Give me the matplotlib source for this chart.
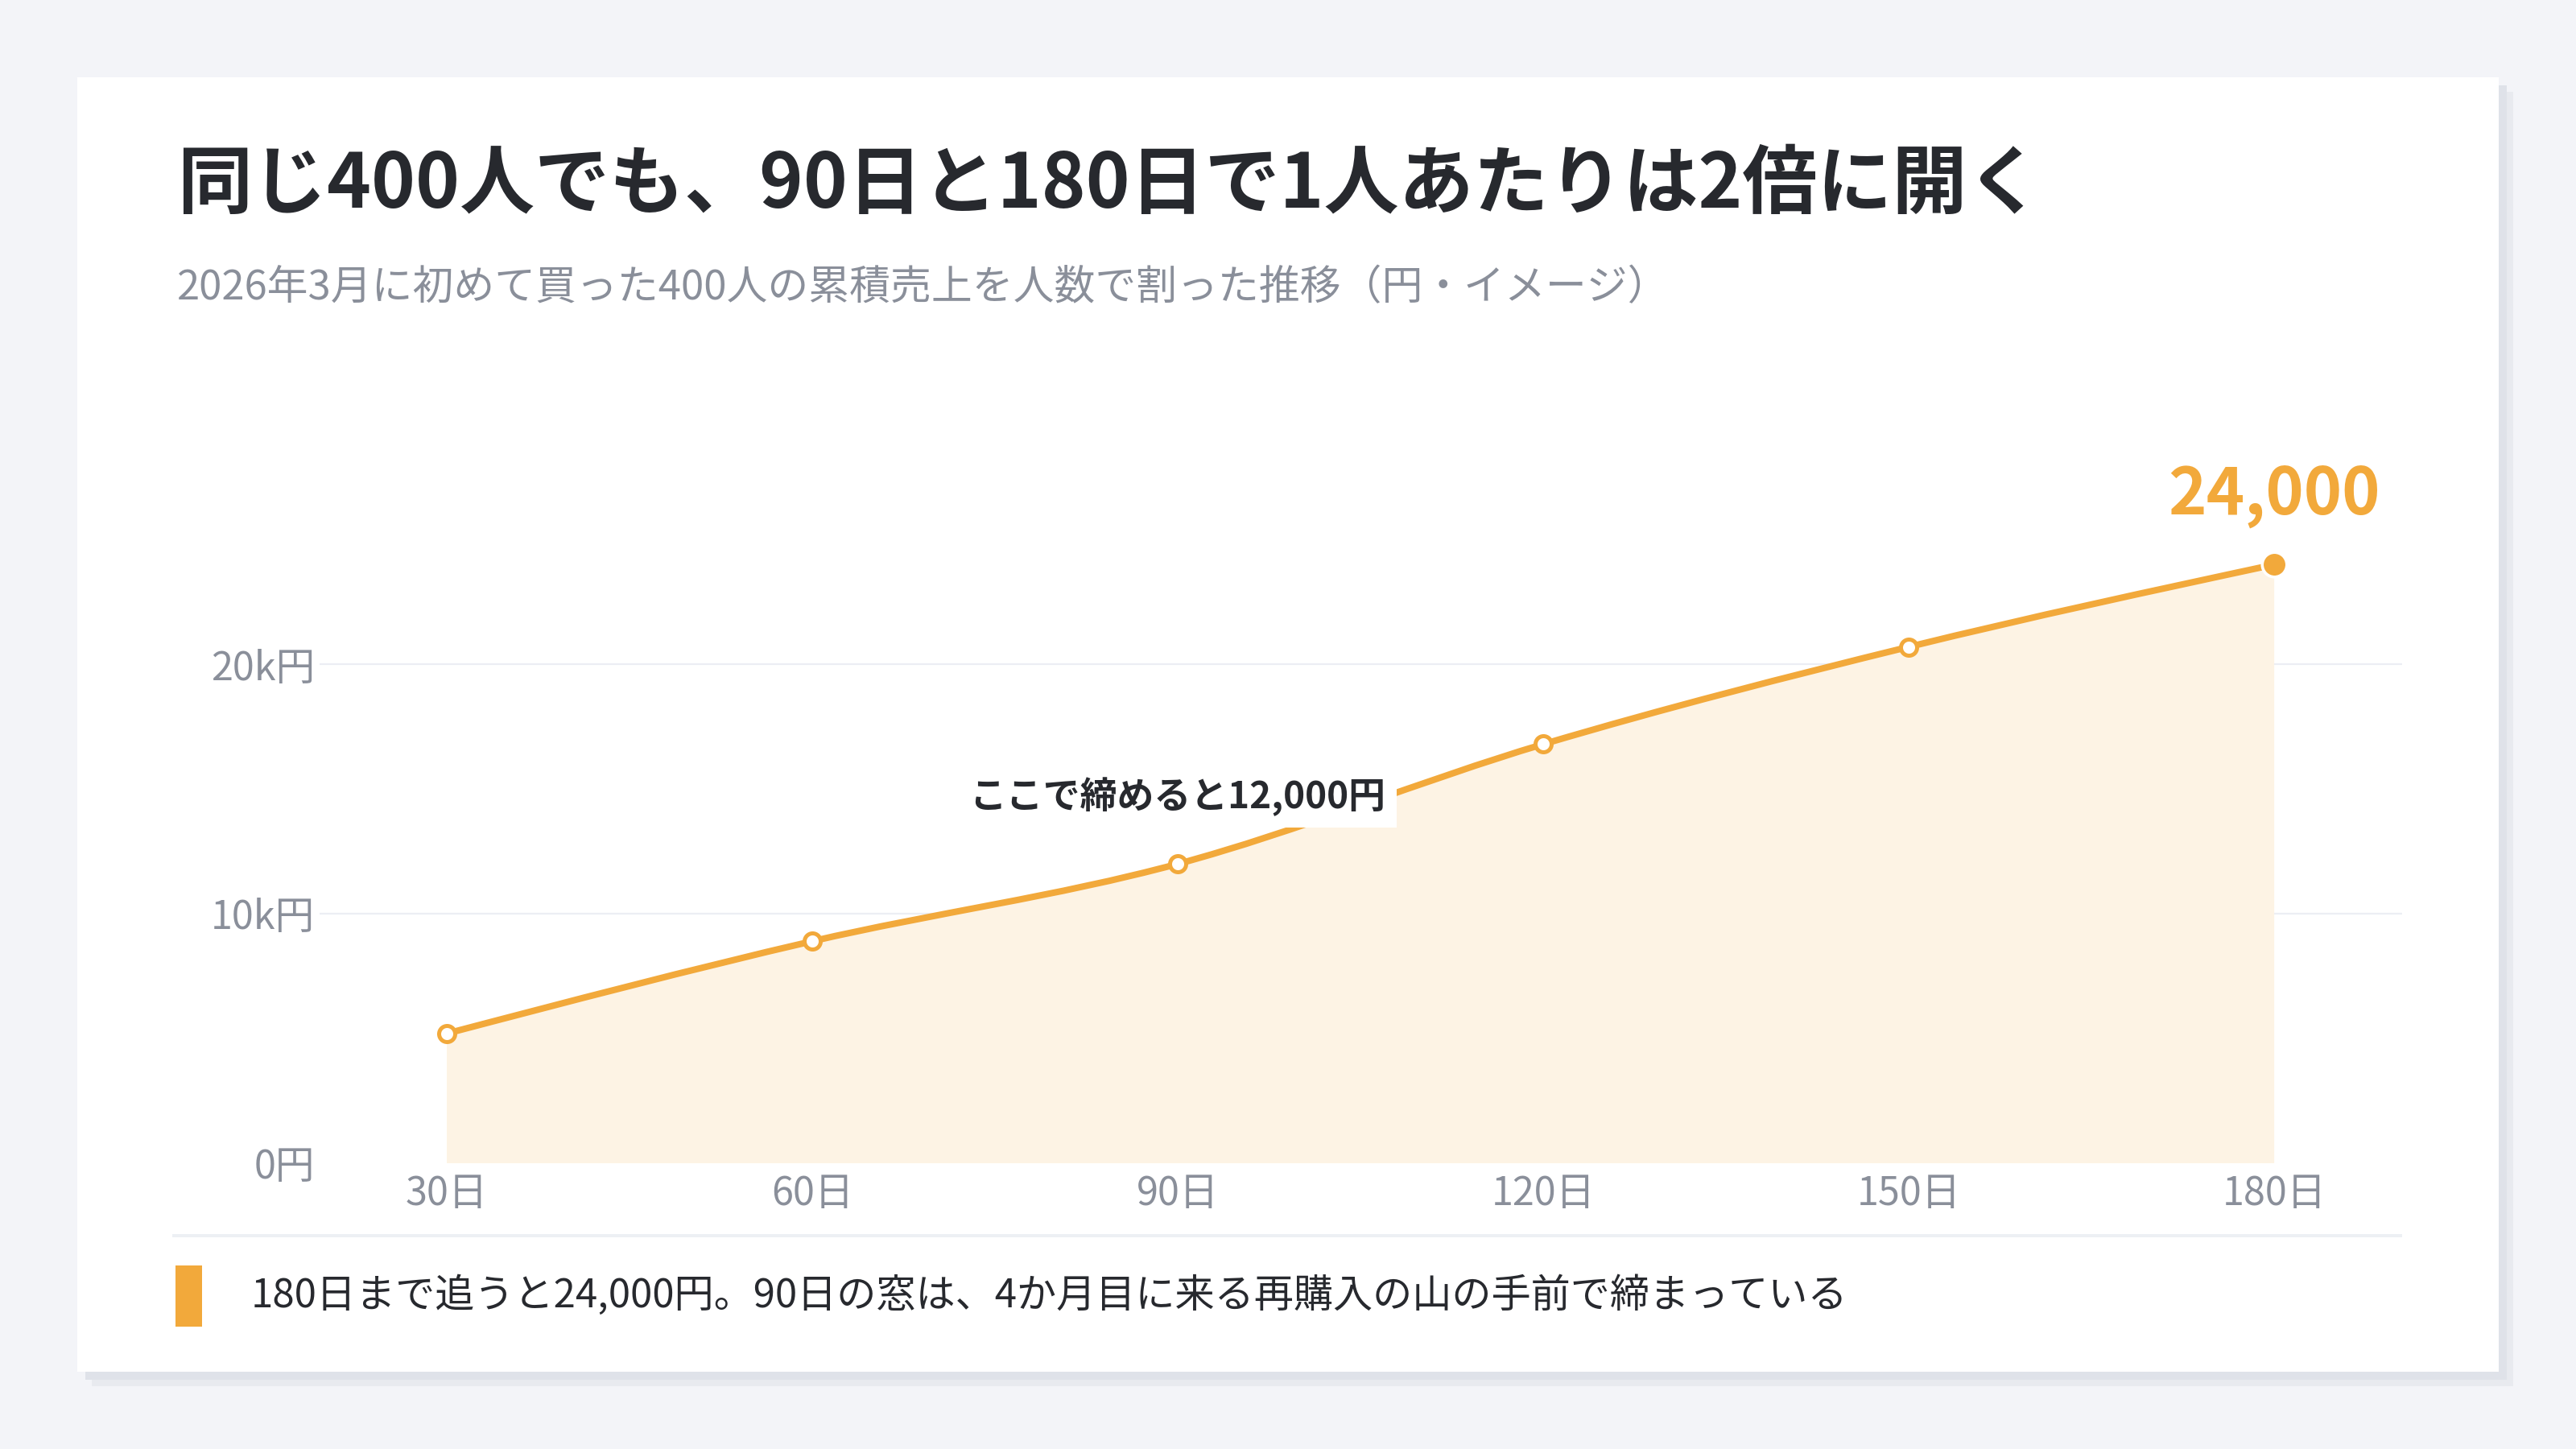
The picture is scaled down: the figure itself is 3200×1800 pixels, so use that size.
import numpy as np
import matplotlib
matplotlib.use("Agg")
import matplotlib.pyplot as plt
from matplotlib.patches import Rectangle, PathPatch
from matplotlib.path import Path

plt.rcParams['font.family'] = ['Noto Sans CJK JP', 'DejaVu Sans']

# data
days = [30, 60, 90, 120, 150, 180]
per_person = [5200, 8900, 12000, 16800, 20700, 24000]
x_labels = ['30日', '60日', '90日', '120日', '150日', '180日']
y_ticks = [0, 10000, 20000]
y_labels = ['0円', '10k円', '20k円']

title = '同じ400人でも、90日と180日で1人あたりは2倍に開く'
subtitle = '2026年3月に初めて買った400人の累積売上を人数で割った推移（円・イメージ）'
note_90 = 'ここで締めると12,000円'
end_label = '24,000'
footer = '180日まで追うと24,000円。90日の窓は、4か月目に来る再購入の山の手前で締まっている'

ORANGE = '#f2a93b'
FILL = '#fdf3e4'
DARK = '#27292e'
GRAY = '#8a8f9a'

W, H = 3200, 1800
fig = plt.figure(figsize=(16, 9), dpi=200)
fig.patch.set_facecolor('#f3f4f8')


def fx(x):
    return x / W


def fy(y):
    return 1 - y / H


def box(x0, y0, x1, y1, color, z=0):
    r = Rectangle((fx(x0), fy(y1)), fx(x1 - x0), (y1 - y0) / H,
                  transform=fig.transFigure, facecolor=color,
                  edgecolor='none', zorder=z)
    fig.add_artist(r)


# card with soft shadow
box(114, 114, 3122, 1722, '#e8eaef', -3)
box(106, 106, 3114, 1714, '#dfe2e9', -2)
box(96, 96, 3104, 1704, 'white', -1)

fig.text(fx(220), fy(230), title, fontsize=33.5, fontweight='bold',
         color=DARK, ha='left', va='center')
fig.text(fx(220), fy(358), subtitle, fontsize=18.3, color=GRAY,
         ha='left', va='center')

# plot area
ax_l, ax_r, ax_b, ax_t = 397, 2984, 1445, 627
ax = fig.add_axes([fx(ax_l), fy(ax_b), fx(ax_r - ax_l), (ax_b - ax_t) / H])
ax.set_facecolor('none')
ax.set_xlim(19.56, 190.5)
ax.set_ylim(0, 26400)
for s in ax.spines.values():
    s.set_visible(False)
ax.set_xticks(days)
ax.set_xticklabels(x_labels)
ax.set_yticks(y_ticks)
ax.set_yticklabels(y_labels)
ax.tick_params(length=0, labelsize=17.5, labelcolor=GRAY)
ax.tick_params(axis='x', pad=5)
ax.tick_params(axis='y', pad=2)
for t in y_ticks[1:]:
    ax.axhline(t, color='#eceef4', lw=0.8, zorder=0)

# monotone cubic curve through the points (like d3 curveMonotoneX)
x = np.array(days, dtype=float)
y = np.array(per_person, dtype=float)
h = np.diff(x)
s = np.diff(y) / h
n = len(x)
t = np.zeros(n)
for i in range(1, n - 1):
    p = (s[i - 1] * h[i] + s[i] * h[i - 1]) / (h[i - 1] + h[i])
    t[i] = (np.sign(s[i - 1]) + np.sign(s[i])) * min(abs(s[i - 1]), abs(s[i]), 0.5 * abs(p))
t[0] = (3 * s[0] - t[1]) / 2
t[-1] = (3 * s[-1] - t[-2]) / 2

verts = [(x[0], y[0])]
codes = [Path.MOVETO]
for i in range(n - 1):
    dx = h[i] / 3
    verts += [(x[i] + dx, y[i] + dx * t[i]),
              (x[i + 1] - dx, y[i + 1] - dx * t[i + 1]),
              (x[i + 1], y[i + 1])]
    codes += [Path.CURVE4] * 3

line_path = Path(verts, codes)
fill_path = Path([(x[0], 0)] + verts + [(x[-1], 0), (x[0], 0)],
                 [Path.MOVETO, Path.LINETO] + codes[1:] + [Path.LINETO, Path.CLOSEPOLY])
ax.add_patch(PathPatch(fill_path, facecolor=FILL, edgecolor='none', zorder=1))
ax.add_patch(PathPatch(line_path, facecolor='none', edgecolor=ORANGE,
                       lw=2.9, capstyle='round', joinstyle='round', zorder=2))

ax.plot(days[:-1], per_person[:-1], 'o', ms=7.2, mfc='white', mec=ORANGE,
        mew=1.8, zorder=3)
ax.plot(days[-1:], per_person[-1:], 'o', ms=11, mfc=ORANGE, mec='white',
        mew=1.3, zorder=3, clip_on=False)

i90 = days.index(90)
ax.annotate(note_90, (days[i90], per_person[i90]), xytext=(0, 30),
            textcoords='offset points', ha='center', va='center',
            fontsize=16.5, fontweight='bold', color=DARK, zorder=5,
            bbox=dict(boxstyle='square,pad=0.3', fc='white', ec='none'))
ax.annotate(end_label, (days[-1], per_person[-1]), xytext=(0, 31),
            textcoords='offset points', ha='center', va='center',
            fontsize=29, fontweight='bold', color=ORANGE, zorder=5,
            annotation_clip=False)

# footer
box(214, 1533, 2984, 1537, '#edf0f4', 1)
box(218, 1572, 251, 1648, ORANGE, 1)
fig.text(fx(312), fy(1610), footer, fontsize=17.7, color=DARK,
         ha='left', va='center')

fig.savefig('out.png', dpi=200, facecolor=fig.get_facecolor())
